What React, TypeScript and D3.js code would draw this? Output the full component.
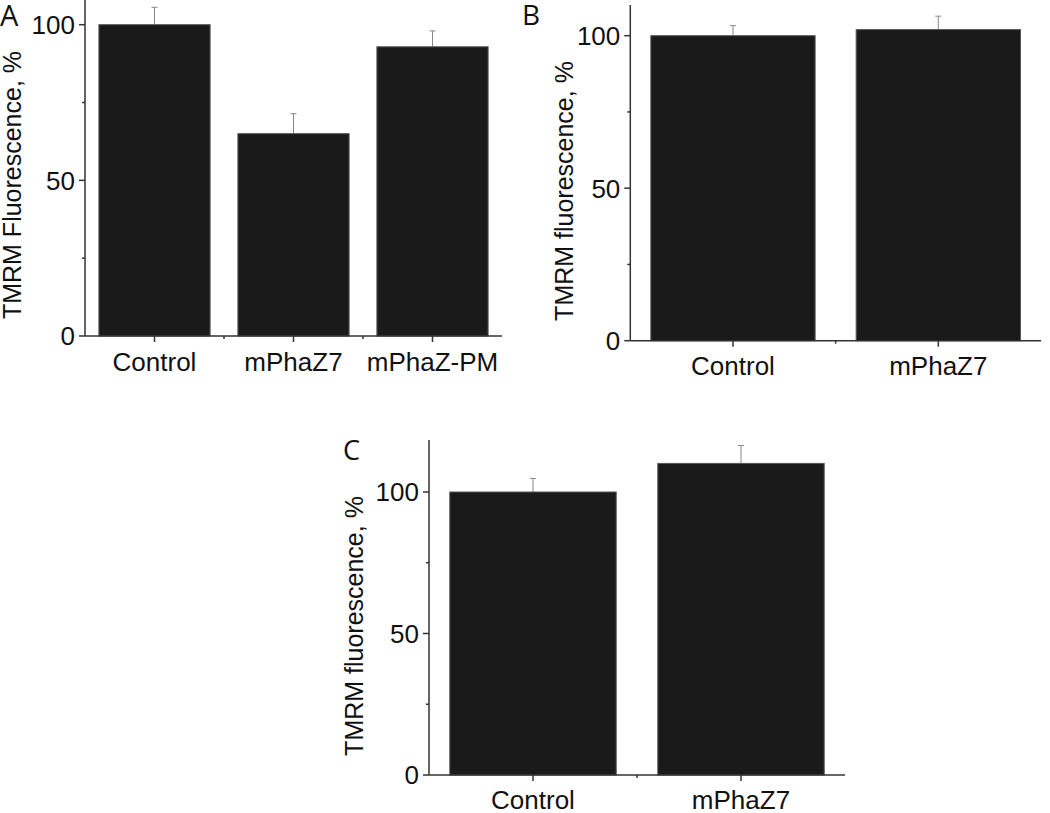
import React from "react";
import * as d3 from "d3";

const catsA = ["Control", "mPhaZ7", "mPhaZ-PM"];
const valsA = [100, 65.0, 92.9];
const errA = [5.6, 6.4, 5.1];

const catsB = ["Control", "mPhaZ7"];
const valsB = [100, 102.0];
const errB = [3.3, 4.4];

const catsC = ["Control", "mPhaZ7"];
const valsC = [100, 110.1];
const errC = [4.8, 6.3];

const majorTicks = [0, 50, 100];
const minorTicks = [25, 75];

type PanelProps = {
  letter: string;
  letterX: number;
  letterY: number;
  letterSize: number;
  cats: string[];
  vals: number[];
  errs: number[];
  x0: number;
  x1: number;
  yBottom: number;
  yTop: number;
  y100: number;
  yLabel: string;
  yLabelX: number;
  yLabelY: number;
  xLabelDy: number;
};

const FONT = "'Liberation Sans', Arial, sans-serif";

function Panel(p: PanelProps) {
  const y = d3.scaleLinear().domain([0, 100]).range([p.yBottom, p.y100]);
  const x = d3.scaleBand<string>().domain(p.cats).range([p.x0, p.x1]).paddingInner(0.2).paddingOuter(0.1);
  const step = x.step();
  const axisColor = "#333";
  const boundaries = p.cats.slice(1).map((c) => (x(c) as number) - step * 0.2 / 2);
  return (
    <g>
      <text x={p.letterX} y={p.letterY} fontFamily="'Open Sans', 'Noto Sans', sans-serif" fontSize={p.letterSize} fill="#111">
        {p.letter}
      </text>
      {p.cats.map((c, i) => {
        const bx = x(c) as number;
        const bw = x.bandwidth();
        const cx = bx + bw / 2;
        const top = y(p.vals[i]);
        const et = y(p.vals[i] + p.errs[i]);
        return (
          <g key={c}>
            <line x1={cx} x2={cx} y1={top} y2={et} stroke="#888" strokeWidth={1} />
            <line x1={cx - 3} x2={cx + 3} y1={et} y2={et} stroke="#888" strokeWidth={1} />
            <rect x={bx} y={top} width={bw} height={p.yBottom - top} fill="#1a1a1a" stroke="#555" strokeWidth={1} />
          </g>
        );
      })}
      <line x1={p.x0} x2={p.x0} y1={p.yTop} y2={p.yBottom} stroke={axisColor} strokeWidth={1.5} />
      {majorTicks.map((t) => (
        <g key={"M" + t}>
          <line x1={p.x0 - 6} x2={p.x0} y1={y(t)} y2={y(t)} stroke={axisColor} strokeWidth={1.5} />
          <text x={p.x0 - 10} y={y(t)} dy="0.36em" textAnchor="end" fontFamily={FONT} fontSize={26} fill="#111">
            {t}
          </text>
        </g>
      ))}
      {minorTicks.map((t) => (
        <line key={"m" + t} x1={p.x0 - 3} x2={p.x0} y1={y(t)} y2={y(t)} stroke={axisColor} strokeWidth={1.5} />
      ))}
      <line x1={p.x0} x2={p.x1} y1={p.yBottom} y2={p.yBottom} stroke={axisColor} strokeWidth={1.5} />
      {p.cats.map((c) => {
        const cx = (x(c) as number) + x.bandwidth() / 2;
        return (
          <g key={"xt" + c}>
            <line x1={cx} x2={cx} y1={p.yBottom} y2={p.yBottom + 6} stroke={axisColor} strokeWidth={1.5} />
            <text x={cx} y={p.yBottom + p.xLabelDy} textAnchor="middle" fontFamily={FONT} fontSize={26} fill="#111">
              {c}
            </text>
          </g>
        );
      })}
      {boundaries.map((bx, i) => (
        <line key={"xb" + i} x1={bx} x2={bx} y1={p.yBottom} y2={p.yBottom + 3} stroke={axisColor} strokeWidth={1.5} />
      ))}
      <text
        transform={`translate(${p.yLabelX},${p.yLabelY}) rotate(-90)`}
        textAnchor="middle"
        fontFamily={FONT}
        fontSize={25}
        fill="#111"
      >
        {p.yLabel}
      </text>
    </g>
  );
}

export default function App() {
  return (
    <svg
      width={1050}
      height={813}
      style={{ position: "absolute", left: 0, top: 0, background: "#fff" }}
    >
      <Panel
        letter="A"
        letterX={0}
        letterY={26}
        letterSize={29}
        cats={catsA}
        vals={valsA}
        errs={errA}
        x0={85}
        x1={502}
        yBottom={336}
        yTop={0}
        y100={24.7}
        yLabel="TMRM Fluorescence, %"
        yLabelX={21}
        yLabelY={185}
        xLabelDy={35}
      />
      <Panel
        letter="B"
        letterX={522}
        letterY={25}
        letterSize={28}
        cats={catsB}
        vals={valsB}
        errs={errB}
        x0={630.3}
        x1={1041}
        yBottom={340.7}
        yTop={5}
        y100={35.7}
        yLabel="TMRM fluorescence, %"
        yLabelX={573}
        yLabelY={191}
        xLabelDy={34}
      />
      <Panel
        letter="C"
        letterX={343}
        letterY={460}
        letterSize={27}
        cats={catsC}
        vals={valsC}
        errs={errC}
        x0={429}
        x1={845}
        yBottom={775}
        yTop={440}
        y100={492}
        yLabel="TMRM fluorescence, %"
        yLabelX={363}
        yLabelY={626}
        xLabelDy={34}
      />
    </svg>
  );
}
